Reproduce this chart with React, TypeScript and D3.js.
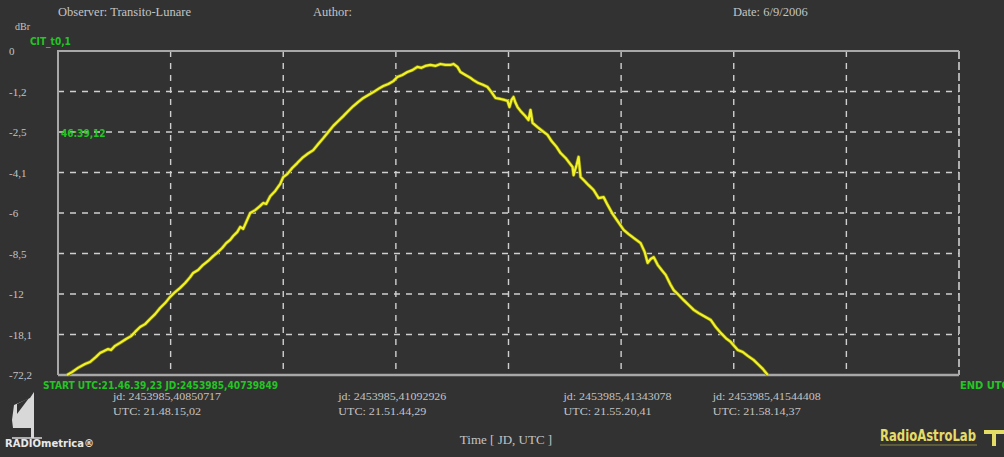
import React from "react";
import * as d3 from "d3";

// chart values
const yTickValues = [100, 87.5, 75, 62.5, 50, 37.5, 25, 12.5, 0];
const yTickLabels = ["0", "-1,2", "-2,5", "-4,1", "-6", "-8,5", "-12", "-18,1", "-72,2"];

// seconds since start (x) and relative amplitude in % (y)
const timeSec = [
	9, 14, 20, 27, 32, 38, 42, 46, 50, 53, 57, 62, 68, 73, 77, 82, 87, 92, 97, 102,
	107, 112, 117, 122, 127, 132, 135, 140, 145, 150, 155, 159, 164, 168, 172, 175, 179, 182, 185, 188,
	192, 197, 202, 205, 208, 212, 217, 222, 225, 229, 234, 239, 244, 249, 255, 260, 265, 270, 275, 280,
	285, 290, 295, 300, 305, 310, 315, 320, 325, 330, 335, 339, 344, 349, 354, 359, 363, 367, 372, 377,
	382, 387, 392, 395, 399, 402, 407, 412, 415, 420, 425, 429, 433, 437, 442, 446, 449, 451, 453, 455,
	457, 459, 462, 466, 470, 472, 474, 479, 484, 489, 493, 498, 502, 507, 511, 514, 515, 518, 520, 522,
	526, 530, 535, 540, 545, 549, 554, 559, 565, 570, 575, 582, 586, 589, 592, 595, 599, 603, 607, 612,
	615, 620, 625, 630, 635, 640, 645, 652, 657, 662, 667, 672, 679, 684, 689, 695, 699, 704, 709,
];
const amplitude = [
	0, 0.9, 2.2, 3.4, 4.0, 5.6, 6.8, 7.4, 8.0, 7.7, 9.0, 9.9, 11.1, 12.0, 13.3, 14.8, 15.7, 17.3, 18.8, 20.7,
	22.2, 24.1, 25.6, 26.9, 28.4, 30.2, 31.5, 32.4, 34.0, 35.2, 36.7, 37.7, 39.2, 40.7, 41.7, 42.9, 44.1, 45.7, 45.1, 47.2,
	50.0, 50.9, 52.2, 53.1, 52.8, 55.2, 56.8, 59.0, 61.1, 62.0, 63.9, 65.4, 67.0, 68.2, 69.4, 71.3, 73.1, 75.0, 76.9, 78.4,
	79.9, 81.5, 83.0, 84.3, 85.5, 86.4, 87.3, 88.3, 89.2, 89.8, 90.7, 92.0, 92.6, 93.5, 94.1, 95.1, 94.8, 95.4, 95.7, 95.4,
	96.0, 95.7, 95.7, 96.0, 95.1, 93.5, 92.6, 91.7, 91.0, 90.1, 89.5, 88.9, 87.3, 85.5, 85.2, 84.9, 84.6, 82.7, 84.9, 85.8,
	84.0, 82.7, 81.5, 80.2, 78.7, 81.8, 77.8, 76.5, 75.3, 74.1, 72.2, 70.4, 68.5, 67.0, 65.4, 64.2, 61.7, 64.8, 67.3, 61.1,
	59.9, 58.6, 57.1, 54.6, 54.9, 52.5, 49.7, 47.5, 44.8, 43.5, 42.3, 40.7, 38.0, 34.6, 35.8, 36.4, 34.0, 32.4, 30.9, 27.8,
	26.2, 24.7, 23.1, 21.6, 20.1, 19.1, 18.2, 17.0, 14.8, 13.0, 11.4, 10.2, 7.7, 7.1, 5.9, 4.6, 3.4, 1.9, 0,
];

// bottom annotations
const markerSec = [55, 280, 505, 654];
const markerJd = ["jd: 2453985,40850717", "jd: 2453985,41092926", "jd: 2453985,41343078", "jd: 2453985,41544408"];
const markerUtc = ["UTC: 21.48.15,02", "UTC: 21.51.44,29", "UTC: 21.55.20,41", "UTC: 21.58.14,37"];

const W = 1004;
const H = 457;
const left = 58, right = 959, top = 51, bottom = 375;

const serif = "'Liberation Serif', 'DejaVu Serif', serif";
const narrow = "'Liberation Sans Narrow', 'DejaVu Sans Condensed', sans-serif";
const green = "#25c425";
const grey = "#c4c4c4";

export default function App() {
	const x = d3.scaleLinear().domain([0, 900]).range([left, right]);
	const y = d3.scaleLinear().domain([0, 100]).range([bottom, top]);
	const xGrid = d3.range(0, 901, 112.5);

	const pts = timeSec.map((t, i) => [t, amplitude[i]] as [number, number]);
	const line = d3
		.line<[number, number]>()
		.x((d) => x(d[0]))
		.y((d) => y(d[1]));

	return (
		<svg width={W} height={H} style={{ position: "absolute", left: 0, top: 0, background: "#323232" }}>
			<rect x={0} y={0} width={W} height={H} fill="#323232" />

			{/* header */}
			<text x={58} y={16} fill={grey} fontFamily={serif} fontSize={12.5}>Observer: Transito-Lunare</text>
			<text x={313} y={16} fill={grey} fontFamily={serif} fontSize={12.5}>Author:</text>
			<text x={733} y={16} fill={grey} fontFamily={serif} fontSize={12.5}>Date: 6/9/2006</text>
			<text x={15} y={30} fill={grey} fontFamily={serif} fontSize={10}>dBr</text>
			<text x={30} y={45} fill={green} fontFamily={narrow} fontSize={10} fontWeight="bold">CIT_t0,1</text>

			{/* grid */}
			{yTickValues.slice(1, -1).map((v) => (
				<line key={"h" + v} x1={left} x2={right} y1={y(v)} y2={y(v)} stroke="#cfcfcf" strokeWidth={1.4} strokeDasharray="6 6" />
			))}
			{xGrid.slice(1, -1).map((t) => (
				<line key={"v" + t} x1={x(t)} x2={x(t)} y1={top} y2={bottom} stroke="#cfcfcf" strokeWidth={1.4} strokeDasharray="6 6" />
			))}
			<line x1={right} x2={right} y1={top} y2={bottom} stroke="#cfcfcf" strokeWidth={1.6} strokeDasharray="8 3" />

			{/* frame */}
			<path d={`M${left},${bottom}V${top}H${right}`} fill="none" stroke="#a8a8a8" strokeWidth={2} />
			<line x1={left} x2={right} y1={bottom} y2={bottom} stroke="#a8a8a8" strokeWidth={2.5} />

			{/* y tick labels */}
			{yTickValues.map((v, i) => (
				<text key={"yl" + i} x={9} y={y(v) + 4} fill={grey} fontFamily={serif} fontSize={11}>
					{yTickLabels[i]}
				</text>
			))}
			<text x={61} y={137} fill={green} fontFamily={narrow} fontSize={10} fontWeight="bold">46:39,12</text>

			{/* signal */}
			<path d={line(pts) || ""} fill="none" stroke="#7a7a10" strokeWidth={3.6} strokeLinejoin="round" />
			<path d={line(pts) || ""} fill="none" stroke="#f2f22a" strokeWidth={2.2} strokeLinejoin="round" />

			{/* bottom labels */}
			<text x={43} y={389} fill={green} fontFamily={narrow} fontSize={11} fontWeight="bold" textLength={235} lengthAdjust="spacingAndGlyphs">
				START UTC:21.46.39,23  JD:2453985,40739849
			</text>
			<text x={960} y={389} fill={green} fontFamily={narrow} fontSize={11} fontWeight="bold">END UTC</text>
			{markerSec.map((t, i) => (
				<g key={"m" + i}>
					<text x={x(t)} y={400} fill={grey} fontFamily={serif} fontSize={11} textLength={108} lengthAdjust="spacingAndGlyphs">{markerJd[i]}</text>
					<text x={x(t)} y={415} fill={grey} fontFamily={serif} fontSize={11} textLength={88} lengthAdjust="spacingAndGlyphs">{markerUtc[i]}</text>
				</g>
			))}
			<text x={506} y={444} textAnchor="middle" fill={grey} fontFamily={serif} fontSize={13}>Time [ JD, UTC ]</text>

			{/* RADIOmetrica logo */}
			<path d="M12,420 L14,405 L30,398 L34,392 L34,428 L13,428 Z" fill="#d8d8d8" />
			<path d="M17,404 L29,398 L17,414 Z" fill="#323232" />
			<rect x={31} y={426} width={3} height={12} fill="#d8d8d8" />
			<line x1={12} x2={42} y1={438} y2={438} stroke="#d8d8d8" strokeWidth={1.5} />
			<text x={5} y={447} fill="#e8e8e8" fontFamily="'DejaVu Sans', sans-serif" fontSize={10} fontWeight="bold">RADIOmetrica®</text>

			{/* RadioAstroLab logo */}
			<text x={880} y={441} fill="#e4dc66" fontFamily={narrow} fontSize={15} fontWeight="bold" textLength={96} lengthAdjust="spacingAndGlyphs">RadioAstroLab</text>
			<line x1={880} x2={977} y1={445} y2={445} stroke="#8a8440" strokeWidth={1} />
			<path d="M984,430 H1004 V434 H996 V446 H992 V434 H984 Z" fill="#e4dc66" />
		</svg>
	);
}
